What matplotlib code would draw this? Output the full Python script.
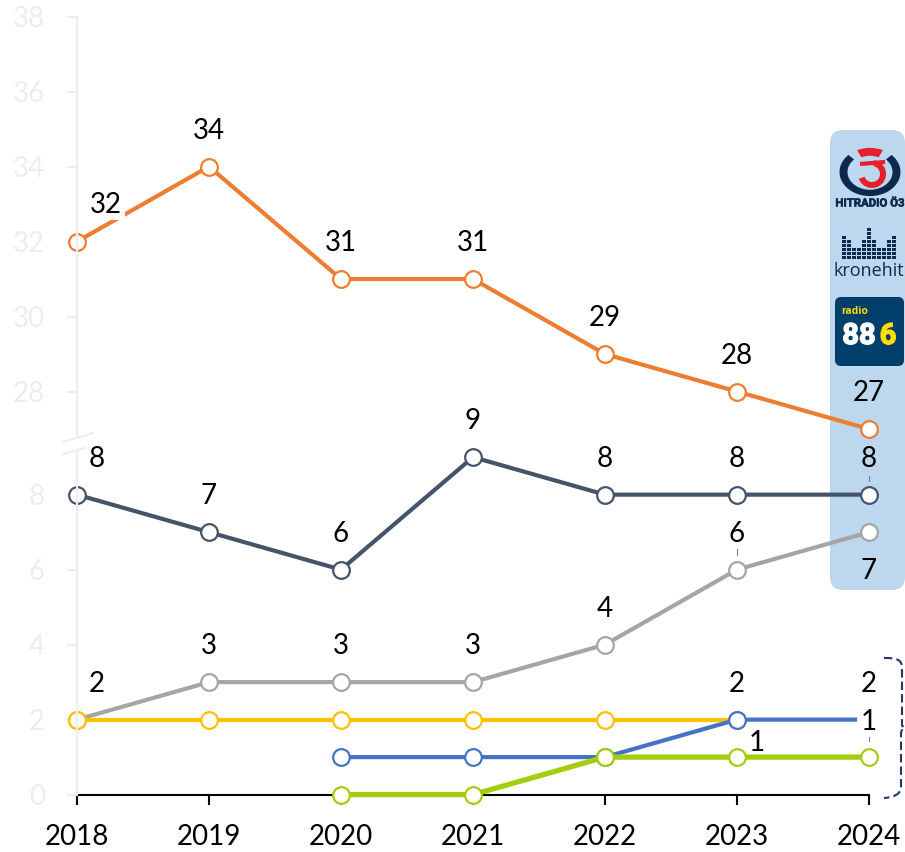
import matplotlib
matplotlib.use("Agg")
import matplotlib.pyplot as plt
from matplotlib.patches import FancyBboxPatch, Wedge, Rectangle, PathPatch
from matplotlib.lines import Line2D
from matplotlib.path import Path
from matplotlib.transforms import Affine2D
import matplotlib.patheffects as pe

plt.rcParams['font.family'] = ['Lato', 'DejaVu Sans']

# data
years = [2018, 2019, 2020, 2021, 2022, 2023, 2024]
orange = [32, 34, 31, 31, 29, 28, 27]
navy = [8, 7, 6, 9, 8, 8, 8]
grey = [2, 3, 3, 3, 4, 6, 7]
yellow = [2, 2, 2, 2, 2, 2, None]
blue = [None, None, 1, 1, 1, 2, 2]
green = [None, None, 0, 0, 1, 1, 1]
lower_ticks = [0, 2, 4, 6, 8]
upper_ticks = [28, 30, 32, 34, 36, 38]

W, H = 905, 852
BREAK_SHIFT = 17.25  # upper part of the axis is moved down by this much


def fold(v):
    # broken y axis: values above the break are shifted down
    return v - BREAK_SHIFT if v > 20 else v


fig = plt.figure(figsize=(W / 100, H / 100), dpi=100)
ax = fig.add_axes([77 / W, 1 - 794.6 / H, 792 / W, 778 / H])
ax.set_xlim(2018, 2024)
ax.set_ylim(0, 778 / 37.5)
ax.patch.set_visible(False)

# pixel coordinates for decoration (y from the top, like the reference)
px = Affine2D().scale(1, -1).translate(0, H) + Affine2D().scale(1 / W, 1 / H) + fig.transFigure

# light blue panel behind the last year
fig.add_artist(FancyBboxPatch((830, 130), 75, 460, boxstyle="round,pad=0,rounding_size=13",
                              transform=px, fc="#BDD7EE", ec="none", zorder=0))

# axes
for s in ['top', 'right', 'left']:
    ax.spines[s].set_visible(False)
ax.spines['bottom'].set_color('black')
ax.spines['bottom'].set_linewidth(1.5)
ax.set_xticks(years)
ax.set_xticklabels([str(y) for y in years], fontsize=20, color='black')
ax.tick_params(axis='x', length=7, width=1.5, color='black', pad=14)
ytick_pos = [fold(v) for v in lower_ticks + upper_ticks]
ax.set_yticks(ytick_pos)
ax.set_yticklabels([str(v) for v in lower_ticks + upper_ticks], fontsize=20, color='#EDEDED')
ax.tick_params(axis='y', length=7, width=1.5, color='#EDEDED', pad=16)

axis_col = '#EDEDED'
for y0, y1 in [(17, 438), (452, 795)]:
    fig.add_artist(Line2D([77, 77], [y0, y1], transform=px, color=axis_col, lw=1.5, zorder=1))
fig.add_artist(Line2D([63, 93], [442, 433], transform=px, color=axis_col, lw=1.5))
fig.add_artist(Line2D([63, 85], [454, 448], transform=px, color=axis_col, lw=1.5))


def draw(vals, color, z=3, lw=3):
    pts = [(x, fold(v)) for x, v in zip(years, vals) if v is not None]
    xs, ys = zip(*pts)
    ax.plot(xs, ys, color=color, lw=lw, marker='o', ms=12, mfc='white', mec=color,
            mew=1.6, clip_on=False, zorder=z, solid_capstyle='round')


draw(grey, '#A5A5A5', z=3)
draw(navy, '#44546A', z=4)
draw(orange, '#ED7D31', z=4)
draw(yellow, '#FFC000', z=5)
draw(blue, '#4472C4', z=6)
draw(green, '#A5CD0F', z=7, lw=3.8)
# the last blue point is hidden in the reference
ax.plot([2024], [blue[-1]], 'o', ms=17, mfc='white', mec='white', clip_on=False, zorder=6.5)


def label(x, v, text, dx=0, dy=36, bg=False):
    bbox = dict(fc='white', ec='none', pad=2) if bg else None
    ax.annotate(text, (x, fold(v)), xytext=(dx * 0.72, dy * 0.72), textcoords='offset points',
                ha='center', va='center', fontsize=20, color='black', zorder=9, bbox=bbox,
                annotation_clip=False)


for x, v in zip(years, orange):
    if x == 2018:
        label(x, v, str(v), dx=29, dy=37, bg=True)
    else:
        label(x, v, str(v))
for x, v in zip(years, navy):
    if x == 2018:
        label(x, v, str(v), dx=20)
    else:
        label(x, v, str(v))
for x, v in zip(years, grey):
    if x == 2018:
        label(x, v, str(v), dx=20)
    elif x == 2024:
        label(x, v, str(v), dy=-39)
    else:
        label(x, v, str(v))
label(2023, blue[5], '2')
label(2024, blue[6], '2')
label(2024, green[6], '1', dy=35)
label(2023, green[5], '1', dx=20, dy=14)

# small leader lines under some labels
for x0, y0, y1 in [(869, 476, 481), (737, 549, 555), (869, 737, 741)]:
    fig.add_artist(Line2D([x0, x0], [y0, y1], transform=px, color='#7F7F7F', lw=0.8, zorder=9))

# dashed brace on the right
brace = Path([(884, 658), (896, 658), (902, 659), (902, 668), (902, 725), (902.5, 727), (904.5, 727),
              (902, 728), (901, 733), (901, 738), (901, 788), (900, 797), (884, 798)],
             [Path.MOVETO, Path.CURVE4, Path.CURVE4, Path.CURVE4, Path.LINETO, Path.CURVE3, Path.CURVE3,
              Path.CURVE3, Path.CURVE3, Path.LINETO, Path.LINETO, Path.CURVE3, Path.CURVE3])
fig.add_artist(PathPatch(brace, transform=px, fc='none', ec='#1F3864', lw=1.5, ls=(0, (4, 2)), zorder=9))

# logos, rough versions
dark = '#0B2A4E'
red = '#E3202C'
# oval ring of the radio logo: circles squashed around the logo centre
oval = Affine2D().scale(1, 0.79).translate(870, 172) + px
fig.add_artist(Wedge((0, 0), 30.5, -45, 225, width=8, transform=oval, fc=dark, ec='none', zorder=2))
fig.add_artist(Wedge((0, 0), 30.5, 245, 295, width=10, transform=oval, fc=red, ec='none', zorder=2))
three = Affine2D().translate(872, 174) + px
fig.add_artist(Wedge((0, 0), 14, -80, 160, width=6, transform=three, fc=red, ec='none', zorder=2))
fig.add_artist(Line2D([860, 885], [164, 162], transform=px, color=red, lw=3, zorder=2, solid_capstyle='butt'))
fig.text(870, 203.5, 'HITRADIO Ö3', transform=px, ha='center', va='center', fontsize=8.2,
         fontweight='bold', color=dark, zorder=3, family=['Roboto', 'DejaVu Sans'],
         path_effects=[pe.withStroke(linewidth=0.4, foreground=dark)])

# kronehit crown, columns of small squares
crown_heights = [6, 5, 3, 3, 5, 8, 5, 3, 3, 5, 6]
for i, h in enumerate(crown_heights):
    cx = 842 + i * 5
    for j in range(h):
        fig.add_artist(Rectangle((cx, 259 - j * 4 - 3.2), 4.2, 3.2, transform=px, fc=dark, ec='none', zorder=2))
fig.text(869, 271, 'kronehit', transform=px, ha='center', va='center', fontsize=13,
         color=dark, zorder=3, family=['Open Sans', 'DejaVu Sans'])

# radio 88.6 tile
fig.add_artist(FancyBboxPatch((835, 297), 69, 69, boxstyle="round,pad=0,rounding_size=6", transform=px,
                              fc='#003F6B', ec='none', zorder=2))
fig.text(841, 312, 'radio', transform=px, ha='left', va='center', fontsize=7.5, fontweight='bold',
         color='#FFE000', zorder=3, family=['Open Sans', 'DejaVu Sans'])
fig.text(859, 336, '88', transform=px, ha='center', va='center', fontsize=21, fontweight='bold',
         color='white', zorder=3, family=['Roboto', 'DejaVu Sans'],
         path_effects=[pe.withStroke(linewidth=1, foreground='white')])
fig.text(888, 336, '6', transform=px, ha='center', va='center', fontsize=21, fontweight='bold',
         color='#FFE000', zorder=3, family=['Roboto', 'DejaVu Sans'],
         path_effects=[pe.withStroke(linewidth=1, foreground='#FFE000')])

fig.savefig('out.png', dpi=100)
